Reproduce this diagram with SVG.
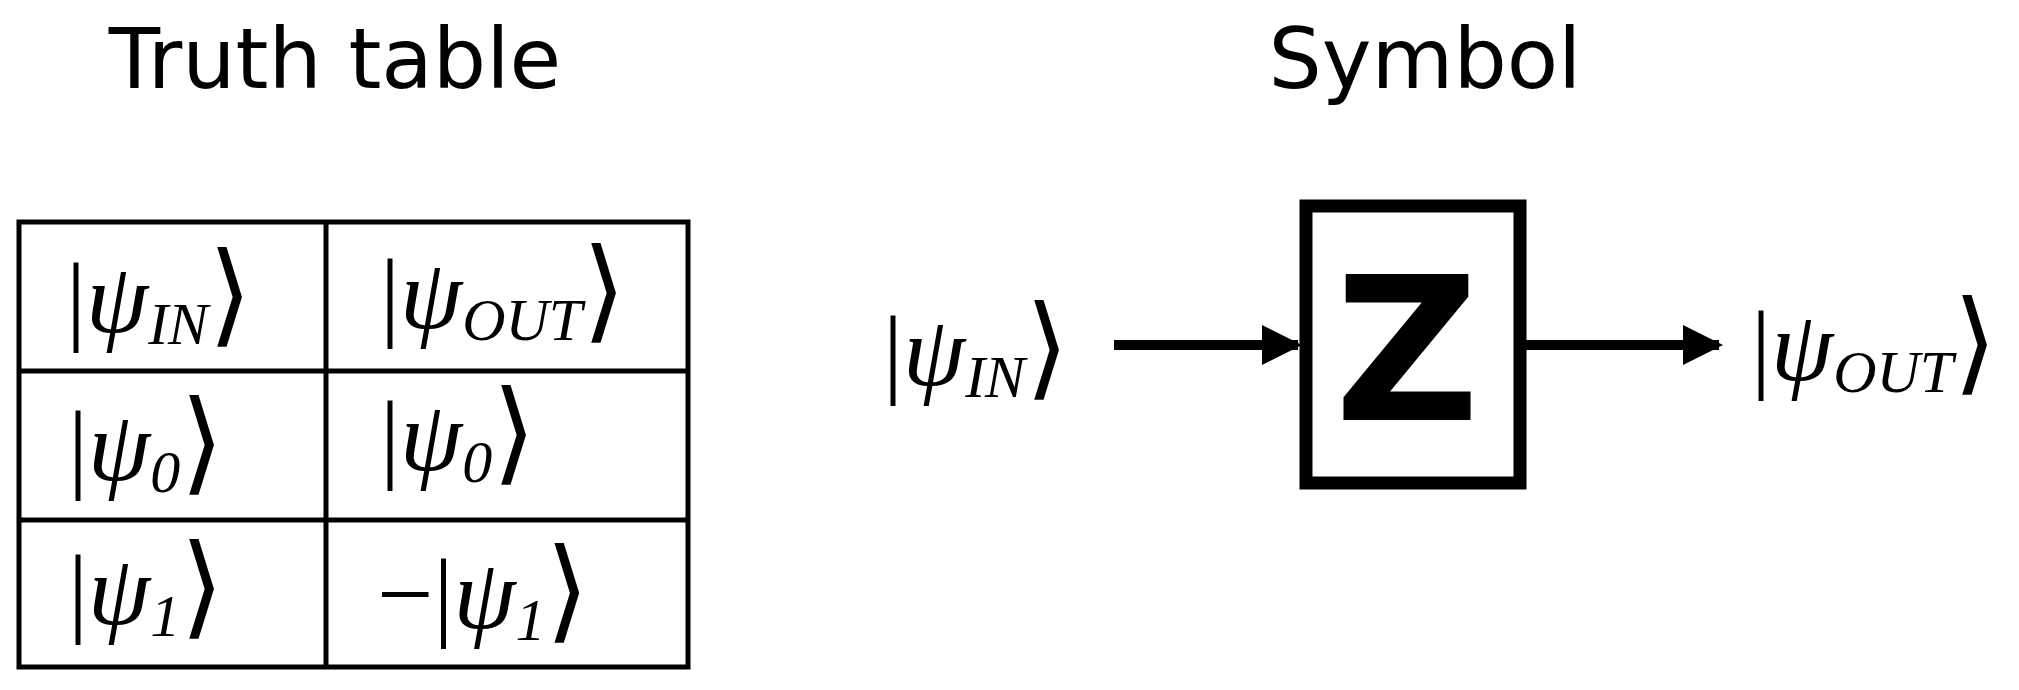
<svg xmlns="http://www.w3.org/2000/svg" width="2019" height="690" viewBox="0 0 2019 690">
<style>
.t{font-family:"DejaVu Sans",sans-serif;font-size:84px;fill:#000}
.m{font-family:"Liberation Serif","DejaVu Serif",serif;font-size:100px;fill:#000}
.i{font-style:italic}
.s{font-size:60px;font-style:italic}
.b{font-size:112px}
.ln{stroke:#000;stroke-width:5;fill:none}
</style>
<defs><marker id="ah" viewBox="0 0 10 10" refX="9" refY="5" markerWidth="4" markerHeight="4.4" orient="auto" markerUnits="strokeWidth"><path d="M0,0L10,5L0,10z" fill="#000"/></marker></defs>
<rect width="2019" height="690" fill="#fff"/>
<text class="t" x="335" y="88" text-anchor="middle">Truth table</text>
<text class="t" x="1425" y="88" text-anchor="middle">Symbol</text>
<g id="table">
<rect class="ln" x="19" y="222" width="669" height="445"/>
<line class="ln" x1="326" y1="222" x2="326" y2="667"/>
<line class="ln" x1="19" y1="371" x2="688" y2="371"/>
<line class="ln" x1="19" y1="520" x2="688" y2="520"/>
<text class="m" x="66" y="332">|<tspan class="i">ψ</tspan><tspan class="s" dy="12">IN</tspan><tspan class="b" dy="-12">⟩</tspan></text>
<text class="m" x="380" y="328">|<tspan class="i">ψ</tspan><tspan class="s" dy="12">OUT</tspan><tspan class="b" dy="-12">⟩</tspan></text>
<text class="m" x="68" y="480">|<tspan class="i">ψ</tspan><tspan class="s" dy="12">0</tspan><tspan class="b" dy="-12">⟩</tspan></text>
<text class="m" x="380" y="470">|<tspan class="i">ψ</tspan><tspan class="s" dy="12">0</tspan><tspan class="b" dy="-12">⟩</tspan></text>
<text class="m" x="68" y="624">|<tspan class="i">ψ</tspan><tspan class="s" dy="12">1</tspan><tspan class="b" dy="-12">⟩</tspan></text>
<text class="m" x="377" y="628">−|<tspan class="i">ψ</tspan><tspan class="s" dy="12">1</tspan><tspan class="b" dy="-12">⟩</tspan></text>
</g>
<g id="gate">
<rect x="1306" y="206" width="214" height="277" fill="#fff" stroke="#000" stroke-width="13"/>
<text x="1407" y="420" text-anchor="middle" font-family="DejaVu Sans,sans-serif" font-weight="bold" font-size="200">Z</text>
</g>
<g id="in"><text class="m" x="883" y="385">|<tspan class="i">ψ</tspan><tspan class="s" dy="12">IN</tspan><tspan class="b" dy="-12">⟩</tspan></text></g>
<g id="out"><text class="m" x="1751" y="380">|<tspan class="i">ψ</tspan><tspan class="s" dy="12">OUT</tspan><tspan class="b" dy="-12">⟩</tspan></text></g>
<g id="connectors" stroke="#000" stroke-width="10">
<line x1="1114" y1="345" x2="1298" y2="345" marker-end="url(#ah)"/>
<line x1="1526" y1="345" x2="1719" y2="345" marker-end="url(#ah)"/>
</g>
</svg>
